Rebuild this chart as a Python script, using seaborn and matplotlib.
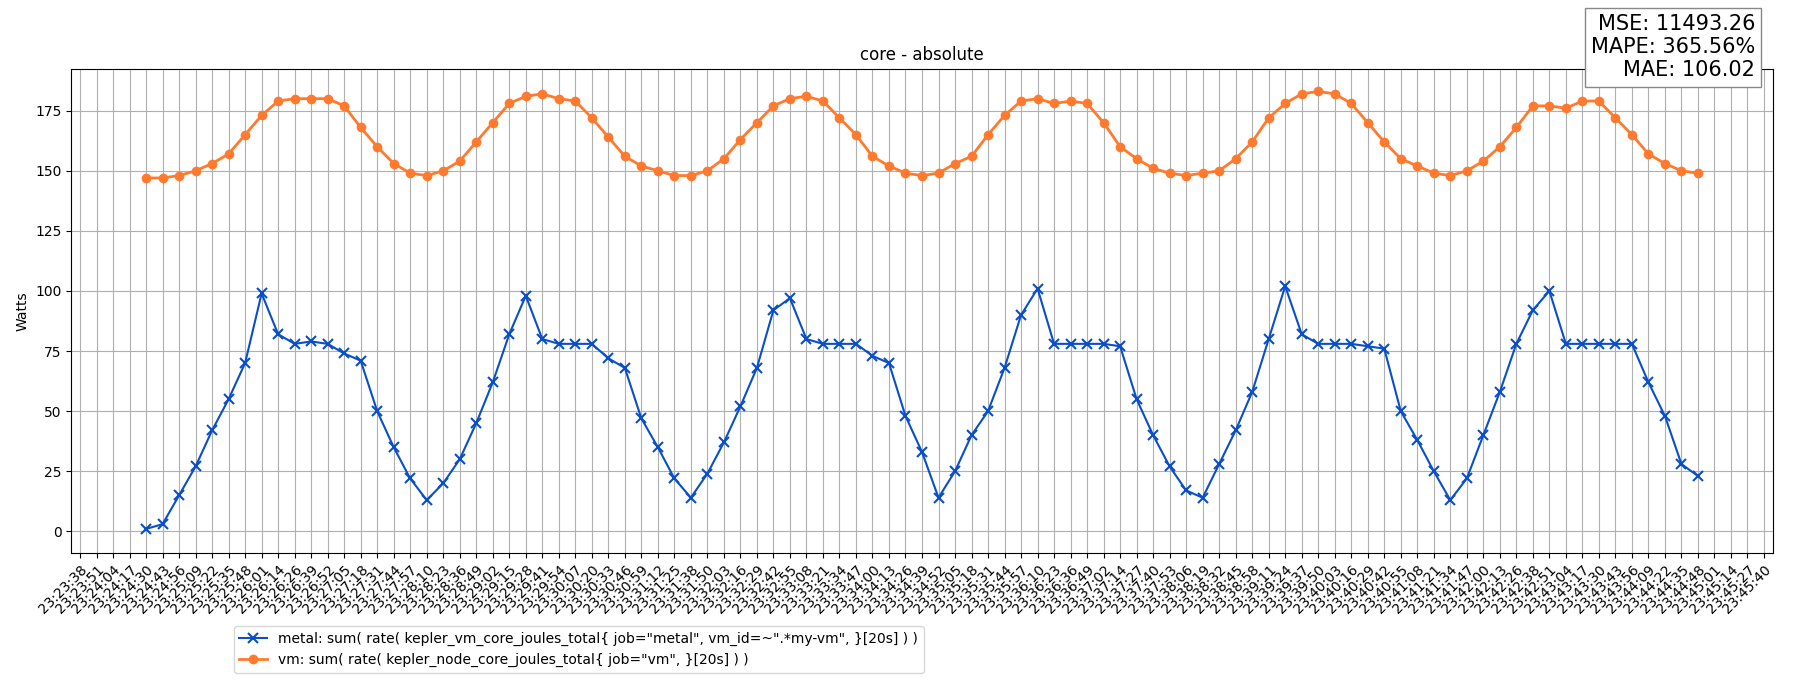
import numpy as np
import pandas as pd
import seaborn as sns
import matplotlib.pyplot as plt

TICK_STEP = 12.96  # seconds between tick labels
start_label = "23:23:38"
n_ticks = 103
tick_idx = list(range(4, 99))

metal = [1, 3, 15, 27, 42, 55, 70, 99, 82, 78, 79, 78, 74, 71, 50, 35, 22,
         13, 20, 30, 45, 62, 82, 98, 80, 78, 78, 78, 72, 68, 47, 35, 22,
         14, 24, 37, 52, 68, 92, 97, 80, 78, 78, 78, 73, 70, 48, 33,
         14, 25, 40, 50, 68, 90, 101, 78, 78, 78, 78, 77, 55, 40, 27, 17,
         14, 28, 42, 58, 80, 102, 82, 78, 78, 78, 77, 76, 50, 38, 25,
         13, 22, 40, 58, 78, 92, 100, 78, 78, 78, 78, 78, 62, 48, 28, 23]
vm = [147, 147, 148, 150, 153, 157, 165, 173, 179, 180, 180, 180, 177, 168, 160, 153, 149,
      148, 150, 154, 162, 170, 178, 181, 182, 180, 179, 172, 164, 156, 152, 150, 148,
      148, 150, 155, 163, 170, 177, 180, 181, 179, 172, 165, 156, 152, 149, 148,
      149, 153, 156, 165, 173, 179, 180, 178, 179, 178, 170, 160, 155, 151, 149, 148,
      149, 150, 155, 162, 172, 178, 182, 183, 182, 178, 170, 162, 155, 152, 149,
      148, 150, 154, 160, 168, 177, 177, 176, 179, 179, 172, 165, 157, 153, 150, 149]

metal_label = 'metal: sum( rate( kepler_vm_core_joules_total{ job="metal", vm_id=~".*my-vm", }[20s] ) )'
vm_label = 'vm: sum( rate( kepler_node_core_joules_total{ job="vm", }[20s] ) )'
stats_text = "MSE: 11493.26\nMAPE: 365.56%\nMAE: 106.02"

h0, m0, s0 = map(int, start_label.split(":"))
base = h0 * 3600 + m0 * 60 + s0
tick_pos = [i * TICK_STEP for i in range(n_ticks)]
def fmt(t):
    t = int(round(base + t))
    return f"{t // 3600:02d}:{(t % 3600) // 60:02d}:{t % 60:02d}"
tick_labels = [fmt(t) for t in tick_pos]

n = min(len(tick_idx), len(metal), len(vm))
df = pd.DataFrame({"t": [i * TICK_STEP for i in tick_idx[:n]],
                   "metal": metal[:n], "vm": vm[:n]})

blue = "#0a4fc8"
orange = "#ff7a2e"
fig = plt.figure(figsize=(18, 7), dpi=100)
ax = fig.add_axes([0.0395, 0.21, 0.9455, 0.692])
sns.lineplot(data=df, x="t", y="metal", ax=ax, color=blue, marker="x",
             markersize=7, markeredgewidth=1.5, markeredgecolor=blue,
             linewidth=1.5, label=metal_label)
sns.lineplot(data=df, x="t", y="vm", ax=ax, color=orange, marker="o",
             markersize=7, markeredgecolor=orange, markeredgewidth=0,
             linewidth=2, label=vm_label)
ax.set_xlim(-7, 1329)
ax.set_ylim(-9, 192.5)
ax.set_xticks(tick_pos)
ax.set_xticklabels(tick_labels, rotation=45, ha="right", rotation_mode="anchor")
ax.set_yticks([0, 25, 50, 75, 100, 125, 150, 175])
ax.grid(True, color="#b0b0b0")
ax.set_axisbelow(True)
ax.set_xlabel("")
ax.set_ylabel("Watts")
ax.set_title("core - absolute")
ax.legend_.remove()
handles, labels = ax.get_legend_handles_labels()
fig.legend(handles, labels, loc="upper left", bbox_to_anchor=(0.126, 0.115), frameon=True)
fig.text(0.975, 0.98, stats_text, ha="right", va="top", fontsize=15,
         bbox=dict(facecolor="white", edgecolor="#888888", boxstyle="square,pad=0.3"))
fig.savefig("out.png", dpi=100)
